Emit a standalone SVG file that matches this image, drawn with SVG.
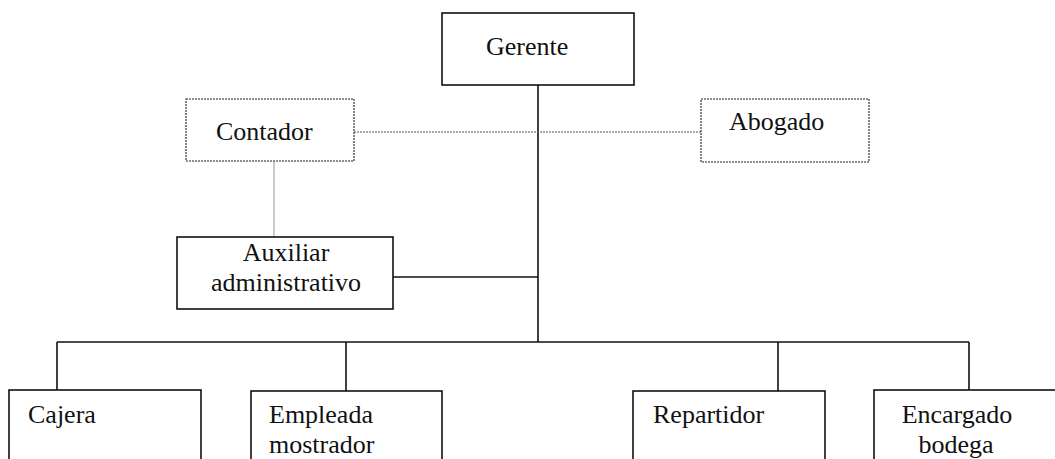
<svg xmlns="http://www.w3.org/2000/svg" width="1055" height="459" viewBox="0 0 1055 459">
<style>
text{font-family:"Liberation Serif","Times New Roman",serif;font-size:26px;fill:#111}
.box{fill:#fff;stroke:#111;stroke-width:1.6}
.dbox{fill:#fff;stroke:#222;stroke-width:1.1;stroke-dasharray:2 1}
.line{stroke:#111;stroke-width:1.6;fill:none}
.dline{stroke:#555;stroke-width:1;stroke-dasharray:2 1;fill:none}
.gline{stroke:#999;stroke-width:1;fill:none}
</style>
<rect width="1055" height="459" fill="#fff"/>
<g id="connectors">
<path class="line" d="M538 85V342"/>
<path class="line" d="M393 277H538"/>
<path class="line" d="M57 342H969"/>
<path class="line" d="M57 342V390M346 342V391M778 342V391M969 342V390"/>
<path class="dline" d="M354 132H701"/>
<path class="gline" d="M274 161V237"/>
</g>
<g id="gerente"><rect class="box" x="442" y="13" width="192" height="72"/><text x="486" y="55">Gerente</text></g>
<g id="contador"><rect class="dbox" x="186" y="99" width="168" height="62"/><text x="216" y="140">Contador</text></g>
<g id="abogado"><rect class="dbox" x="701" y="99" width="168" height="63"/><text x="729" y="130">Abogado</text></g>
<g id="auxiliar"><rect class="box" x="177" y="237" width="216" height="72"/><text x="286" y="261" text-anchor="middle">Auxiliar</text><text x="286" y="291" text-anchor="middle">administrativo</text></g>
<g id="cajera"><rect class="box" x="9" y="390" width="192" height="100"/><text x="28" y="423">Cajera</text></g>
<g id="empleada"><rect class="box" x="251" y="391" width="191" height="100"/><text x="269" y="423">Empleada</text><text x="269" y="453">mostrador</text></g>
<g id="repartidor"><rect class="box" x="633" y="391" width="192" height="100"/><text x="653" y="423">Repartidor</text></g>
<g id="encargado"><rect class="box" x="874" y="390" width="200" height="100"/><text x="957" y="423" text-anchor="middle">Encargado</text><text x="956" y="453" text-anchor="middle">bodega</text></g>
</svg>
